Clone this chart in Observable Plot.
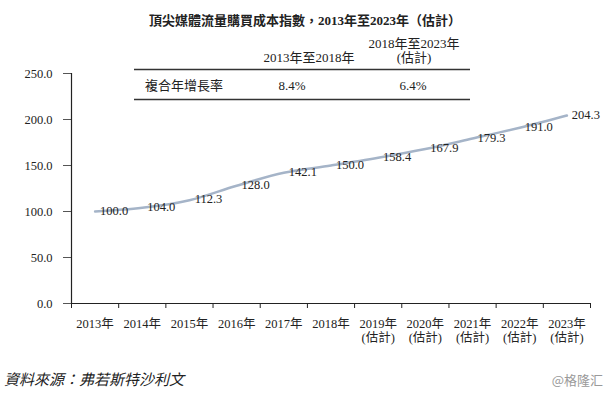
<!DOCTYPE html>
<html>
<head>
<meta charset="utf-8">
<script src="https://cdn.jsdelivr.net/npm/d3@7"></script>
<script src="https://cdn.jsdelivr.net/npm/@observablehq/plot@0.6"></script>
<style>
  body { margin: 0; background: #fff; }
  #chart { position: relative; width: 610px; height: 393px; }
</style>
</head>
<body>
<div id="chart"></div>
<script>
const titleText = "頂尖媒體流量購買成本指數，2013年至2023年（估計）";
const years = ["2013年","2014年","2015年","2016年","2017年","2018年","2019年","2020年","2021年","2022年","2023年"];
const estimated = [false,false,false,false,false,false,true,true,true,true,true];
const values = [100.0, 104.0, 112.3, 128.0, 142.1, 150.0, 158.4, 167.9, 179.3, 191.0, 204.3];
const yTicks = [0, 50, 100, 150, 200, 250];
const tableHeaders = [["2013年至2018年"], ["2018年至2023年", "(估計)"]];
const tableRowLabel = "複合年增長率";
const tableValues = ["8.4%", "6.4%"];
const sourceText = "資料來源：弗若斯特沙利文";
const watermark = "@格隆汇";

const serif = "'Liberation Serif', 'Times New Roman', 'Noto Sans CJK TC', serif";
const xLabels = years.map((y, i) => estimated[i] ? y + "\n(估計)" : y);
const data = years.map((year, i) => ({i, year, value: values[i]}));

const chart = Plot.plot({
  width: 610,
  height: 393,
  marginLeft: 71,
  marginRight: 20,
  marginTop: 73,
  marginBottom: 90,
  style: {fontFamily: serif, fontSize: "12.5px", color: "#222", background: "#fff", overflow: "visible"},
  x: {domain: [0, years.length], axis: null},
  y: {domain: [0, 250], axis: null},
  marks: [
    Plot.axisY({ticks: yTicks, tickFormat: d => d.toFixed(1), tickSize: 8, tickPadding: 11, stroke: "#555", fontSize: 12.5, label: null}),
    Plot.axisX({ticks: d3.range(0, years.length + 1), tickFormat: () => "", tickSize: 5, stroke: "#222", label: null}),
    Plot.axisX({ticks: years.map((d, i) => i + 0.5), tickFormat: d => xLabels[Math.floor(d)], tickSize: 0, tickPadding: 15, lineHeight: 1.1, fontSize: 12.5, label: null}),
    Plot.ruleX([0], {y1: 0, y2: 250, stroke: "#222", strokeWidth: 1.2}),
    Plot.ruleY([0], {x1: 0, x2: years.length, stroke: "#222", strokeWidth: 1.2}),
    Plot.line(data, {x: d => d.i + 0.5, y: "value", curve: "monotone-x", stroke: "#a5b4c8", strokeWidth: 2.5}),
    Plot.text(data, {x: d => d.i + 0.5, y: "value", text: d => d.value.toFixed(1), dx: 19, dy: -1, fontSize: 12.5, fill: "#222"})
  ]
});

document.getElementById("chart").appendChild(chart);

const svg = d3.select(chart);
// Title
svg.append("text").attr("x", 305).attr("y", 24.5).attr("text-anchor", "middle")
  .attr("font-weight", "bold").attr("font-size", 13).attr("fill", "#222").text(titleText);

// Table
const colX = [309, 414];
tableHeaders.forEach((lines, c) => {
  lines.forEach((line, k) => {
    svg.append("text").attr("x", colX[c]).attr("y", 62 - (lines.length - 1 - k) * 14)
      .attr("text-anchor", "middle").attr("font-size", 13).attr("fill", "#222").text(line);
  });
});
svg.append("line").attr("x1", 134).attr("x2", 470).attr("y1", 69.5).attr("y2", 69.5).attr("stroke", "#333").attr("stroke-width", 1.3);
svg.append("line").attr("x1", 134).attr("x2", 470).attr("y1", 99.5).attr("y2", 99.5).attr("stroke", "#333").attr("stroke-width", 1.3);
svg.append("text").attr("x", 145).attr("y", 89.5).attr("text-anchor", "start").attr("font-size", 13).attr("fill", "#222").text(tableRowLabel);
tableValues.forEach((v, c) => {
  svg.append("text").attr("x", [292, 413][c]).attr("y", 89.5).attr("text-anchor", "middle")
    .attr("font-size", 13).attr("fill", "#222").text(v);
});

// Footer
svg.append("text").attr("x", 4).attr("y", 385).attr("text-anchor", "start").attr("font-size", 15).attr("font-style", "italic")
  .attr("fill", "#222").text(sourceText);
svg.append("text").attr("x", 603).attr("y", 385).attr("text-anchor", "end").attr("font-size", 13)
  .attr("fill", "#9a9a9a").attr("font-family", "'Noto Sans CJK SC', sans-serif").text(watermark);
</script>
</body>
</html>
